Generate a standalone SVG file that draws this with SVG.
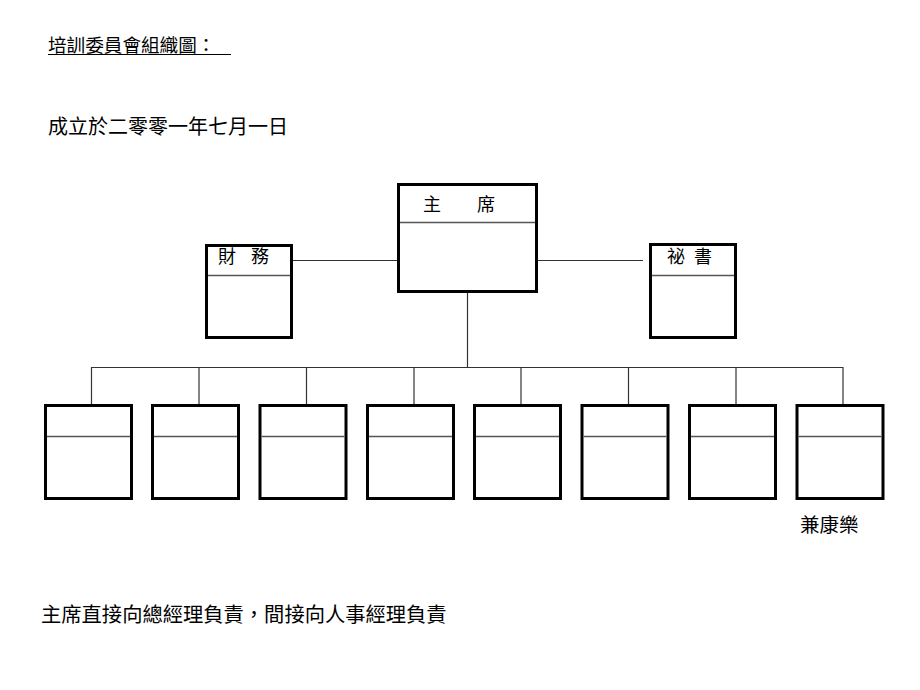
<svg xmlns="http://www.w3.org/2000/svg" width="920" height="690" viewBox="0 0 920 690">
<style>
text{font-family:"Noto Sans CJK TC","Noto Sans CJK SC",sans-serif;fill:#000}
.box{fill:#fff;stroke:#000;stroke-width:3}
.div{stroke:#555;stroke-width:1.3;fill:none}
.con{stroke:#333;stroke-width:1.2;fill:none}
</style>
<defs>
<g id="sbox"><rect class="box" x="0" y="0" width="86" height="93"/><line class="div" x1="1.5" y1="31" x2="84.5" y2="31"/></g>
</defs>
<rect width="920" height="690" fill="#fff"/>
<text x="48" y="52" font-size="18.6">培訓委員會組織圖：</text>
<line x1="48" y1="54.5" x2="231" y2="54.5" stroke="#000" stroke-width="1.2"/>
<text x="48" y="133.5" font-size="20">成立於二零零一年七月一日</text>
<g id="connectors">
<line class="con" x1="292" y1="260.5" x2="398" y2="260.5"/>
<line class="con" x1="537" y1="260.5" x2="643" y2="260.5"/>
<line class="con" x1="467.5" y1="291" x2="467.5" y2="367.5"/>
<polyline class="con" points="91.5,405 91.5,367.5 843,367.5 843,405"/>
<line class="con" x1="199" y1="367.5" x2="199" y2="405"/>
<line class="con" x1="306.5" y1="367.5" x2="306.5" y2="405"/>
<line class="con" x1="414" y1="367.5" x2="414" y2="405"/>
<line class="con" x1="521" y1="367.5" x2="521" y2="405"/>
<line class="con" x1="628.5" y1="367.5" x2="628.5" y2="405"/>
<line class="con" x1="736" y1="367.5" x2="736" y2="405"/>
</g>
<g id="chair">
<rect class="box" x="398.5" y="184.5" width="138" height="107"/>
<line class="div" x1="400" y1="222.5" x2="535" y2="222.5"/>
<text y="211" font-size="18"><tspan x="423">主</tspan><tspan x="477">席</tspan></text>
</g>
<g id="finance">
<rect class="box" x="206.5" y="245.5" width="85" height="92"/>
<line class="div" x1="208" y1="275.5" x2="290" y2="275.5"/>
<text y="263" font-size="18"><tspan x="218">財</tspan><tspan x="251">務</tspan></text>
</g>
<g id="secretary">
<rect class="box" x="650.5" y="244.5" width="85" height="93"/>
<line class="div" x1="652" y1="275.5" x2="734" y2="275.5"/>
<text y="263" font-size="18"><tspan x="667">祕</tspan><tspan x="694">書</tspan></text>
</g>
<g id="m1"><use href="#sbox" x="45.5" y="405.5"/></g>
<g id="m2"><use href="#sbox" x="152.5" y="405.5"/></g>
<g id="m3"><use href="#sbox" x="260" y="405.5"/></g>
<g id="m4"><use href="#sbox" x="367.5" y="405.5"/></g>
<g id="m5"><use href="#sbox" x="474.5" y="405.5"/></g>
<g id="m6"><use href="#sbox" x="582" y="405.5"/></g>
<g id="m7"><use href="#sbox" x="689.5" y="405.5"/></g>
<g id="m8"><use href="#sbox" x="797" y="405.5"/></g>
<text x="800" y="532" font-size="19.5">兼康樂</text>
<text x="41" y="622" font-size="20.3">主席直接向總經理負責，間接向人事經理負責</text>
</svg>
